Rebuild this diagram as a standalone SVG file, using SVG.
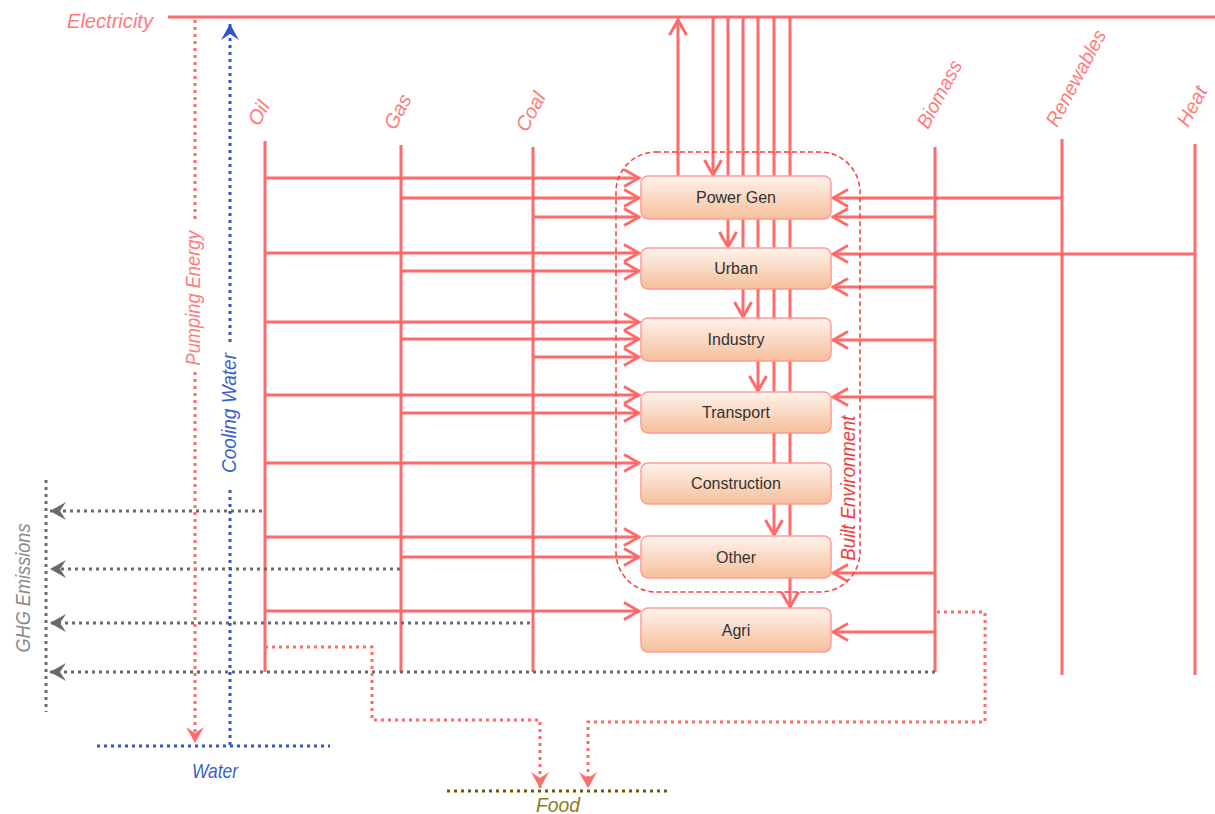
<svg xmlns="http://www.w3.org/2000/svg" width="1215" height="814" viewBox="0 0 1215 814">
<style>
.ln{stroke:#ff6b6b;stroke-width:3;fill:none}
.arr{marker-end:url(#ah)}
.dr{stroke:#ff6b6b;stroke-width:3;fill:none;stroke-dasharray:3 4}
.dg{stroke:#6a6a6a;stroke-width:3;fill:none;stroke-dasharray:3 4}
.db{stroke:#3355cc;stroke-width:3;fill:none;stroke-dasharray:3 4}
.dy{stroke:#6e5c00;stroke-width:3;fill:none;stroke-dasharray:3 4}
.lbl{font-family:"Liberation Sans",Arial,sans-serif;font-style:italic;font-size:21px}
.fl{font-size:20px}
.fuel{fill:#ff7b7b}
.box{fill:url(#gb);stroke:#ff9c9c;stroke-width:1.5}
.bt{font-family:"Liberation Sans",Arial,sans-serif;font-size:16px;fill:#333;text-anchor:middle}
</style>
<defs>
<linearGradient id="gb" x1="0" y1="0" x2="0" y2="1">
<stop offset="0" stop-color="#fff3ec"/>
<stop offset="1" stop-color="#f5bf9a"/>
</linearGradient>
<marker id="ah" viewBox="-17 -10 19 20" refX="0" refY="0" markerWidth="19" markerHeight="20" markerUnits="userSpaceOnUse" orient="auto">
<path d="M-15,-8.5 L0,0 L-15,8.5" fill="none" stroke="#ff6b6b" stroke-width="3"/>
</marker>
<marker id="ag" viewBox="-18 -10 19 20" refX="0" refY="0" markerWidth="19" markerHeight="20" markerUnits="userSpaceOnUse" orient="auto">
<path d="M0,0 L-16,-9 L-10,0 L-16,9 Z" fill="#6a6a6a"/>
</marker>
<marker id="ar" viewBox="-18 -10 19 20" refX="0" refY="0" markerWidth="19" markerHeight="20" markerUnits="userSpaceOnUse" orient="auto">
<path d="M0,0 L-16,-9 L-10,0 L-16,9 Z" fill="#ff6b6b"/>
</marker>
<marker id="ab" viewBox="-18 -10 19 20" refX="0" refY="0" markerWidth="19" markerHeight="20" markerUnits="userSpaceOnUse" orient="auto">
<path d="M0,0 L-16,-9 L-10,0 L-16,9 Z" fill="#3355cc"/>
</marker>
</defs>
<rect width="1215" height="814" fill="#ffffff"/>

<g id="connectors">
<!-- electricity bus -->
<path class="ln" d="M168,17 H1215"/>
<path class="ln arr" d="M678,176 V20"/>
<path class="ln arr" d="M713,17 V175"/>
<path class="ln arr" d="M728,17 V247"/>
<path class="ln arr" d="M743,17 V317"/>
<path class="ln arr" d="M758,17 V391"/>
<path class="ln arr" d="M774,17 V535"/>
<path class="ln arr" d="M790,17 V607"/>
<!-- fuel verticals -->
<path class="ln" d="M265,141 V672"/>
<path class="ln" d="M401,145 V672"/>
<path class="ln" d="M533,147 V672"/>
<path class="ln" d="M935,147 V672"/>
<path class="ln" d="M1062,139 V675"/>
<path class="ln" d="M1195,144 V675"/>
<!-- oil -->
<path class="ln arr" d="M265,178 H639"/>
<path class="ln arr" d="M265,253 H639"/>
<path class="ln arr" d="M265,322 H639"/>
<path class="ln arr" d="M265,395 H639"/>
<path class="ln arr" d="M265,463 H639"/>
<path class="ln arr" d="M265,537 H639"/>
<path class="ln arr" d="M265,611 H639"/>
<!-- gas -->
<path class="ln arr" d="M401,198 H639"/>
<path class="ln arr" d="M401,271 H639"/>
<path class="ln arr" d="M401,339 H639"/>
<path class="ln arr" d="M401,413 H639"/>
<path class="ln arr" d="M401,557 H639"/>
<!-- coal -->
<path class="ln arr" d="M533,217 H639"/>
<path class="ln arr" d="M533,357 H639"/>
<!-- right side -->
<path class="ln arr" d="M1062,198 H833"/>
<path class="ln arr" d="M935,217 H833"/>
<path class="ln arr" d="M1195,254 H833"/>
<path class="ln arr" d="M935,287 H833"/>
<path class="ln arr" d="M935,340 H833"/>
<path class="ln arr" d="M935,397 H833"/>
<path class="ln arr" d="M935,573 H833"/>
<path class="ln arr" d="M935,632 H833"/>
<!-- GHG emissions -->
<path class="dg" d="M46,480 V712"/>
<path class="dg" d="M262,511 H50" marker-end="url(#ag)"/>
<path class="dg" d="M400,569 H50" marker-end="url(#ag)"/>
<path class="dg" d="M530,623 H50" marker-end="url(#ag)"/>
<path class="dg" d="M935,672 H50" marker-end="url(#ag)"/>
<!-- water -->
<path class="dr" d="M195,20 V222"/>
<path class="dr" d="M195,372 V743" marker-end="url(#ar)"/>
<path class="db" d="M230,745 V487"/>
<path class="db" d="M230,342 V24" marker-end="url(#ab)"/>
<path class="db" d="M97,746 H330"/>
<!-- food -->
<path class="dr" d="M265,647 H372 V720 H540 V788" marker-end="url(#ar)"/>
<path class="dr" d="M937,612 H985 V722 H588 V788" marker-end="url(#ar)"/>
<path class="dy" d="M447,791 H667"/>
</g>

<g id="labels">
<text class="lbl fuel" x="67" y="28" textLength="86" lengthAdjust="spacingAndGlyphs">Electricity</text>
<text class="lbl" fill="#ff7b7b" text-anchor="middle" transform="translate(200,298) rotate(-90)" textLength="135" lengthAdjust="spacingAndGlyphs">Pumping Energy</text>
<text class="lbl" fill="#3a5fd0" text-anchor="middle" transform="translate(236,413) rotate(-90)" textLength="120" lengthAdjust="spacingAndGlyphs">Cooling Water</text>
<text class="lbl" fill="#8a8a8a" text-anchor="middle" transform="translate(30,588) rotate(-90)" textLength="129" lengthAdjust="spacingAndGlyphs">GHG Emissions</text>
<text class="lbl" fill="#3a5fd0" x="192" y="778" textLength="46" lengthAdjust="spacingAndGlyphs">Water</text>
<text class="lbl" fill="#8a7a20" x="536" y="812" textLength="44" lengthAdjust="spacingAndGlyphs">Food</text>
<text class="lbl" fill="#f03c3c" text-anchor="middle" transform="translate(855,488) rotate(-90)" textLength="145" lengthAdjust="spacingAndGlyphs">Built Environment</text>
</g>

<g id="fuel-labels">
<g id="oil"><text class="lbl fl fuel" transform="translate(259,127) rotate(-62)">Oil</text></g>
<g id="gas"><text class="lbl fl fuel" transform="translate(395,131) rotate(-62)">Gas</text></g>
<g id="coal"><text class="lbl fl fuel" transform="translate(527,133) rotate(-62)">Coal</text></g>
<g id="biomass"><text class="lbl fl fuel" transform="translate(928,130) rotate(-62)" textLength="74" lengthAdjust="spacingAndGlyphs">Biomass</text></g>
<g id="renewables"><text class="lbl fl fuel" transform="translate(1057,128) rotate(-62)" textLength="106" lengthAdjust="spacingAndGlyphs">Renewables</text></g>
<g id="heat"><text class="lbl fl fuel" transform="translate(1188,128) rotate(-62)">Heat</text></g>
</g>

<g id="power-gen"><rect class="box" x="641" y="176" width="190" height="43" rx="7"/><text class="bt" x="736" y="203">Power Gen</text></g>
<g id="urban"><rect class="box" x="641" y="248" width="190" height="41" rx="7"/><text class="bt" x="736" y="274">Urban</text></g>
<g id="industry"><rect class="box" x="641" y="318" width="190" height="43" rx="7"/><text class="bt" x="736" y="345">Industry</text></g>
<g id="transport"><rect class="box" x="641" y="392" width="190" height="41" rx="7"/><text class="bt" x="736" y="418">Transport</text></g>
<g id="construction"><rect class="box" x="641" y="463" width="190" height="41" rx="7"/><text class="bt" x="736" y="489">Construction</text></g>
<g id="other"><rect class="box" x="641" y="536" width="190" height="42" rx="7"/><text class="bt" x="736" y="563">Other</text></g>
<g id="agri"><rect class="box" x="641" y="608" width="190" height="44" rx="7"/><text class="bt" x="736" y="636">Agri</text></g>

<g id="built-environment">
<rect x="616" y="152" width="244" height="440" rx="40" fill="none" stroke="#ff3a3a" stroke-width="1.5" stroke-dasharray="5 3"/>
</g>
</svg>
